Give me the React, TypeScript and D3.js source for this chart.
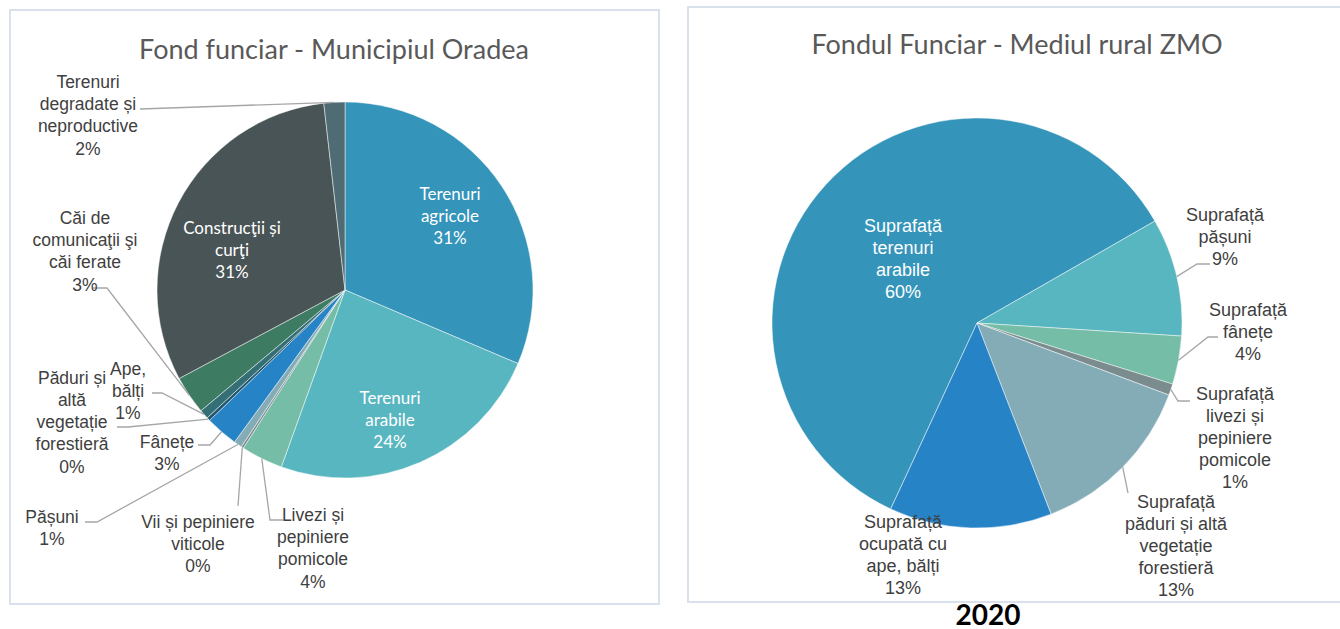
import React from 'react';
import * as d3 from 'd3';

// Fond funciar - Municipiul Oradea (share of total area, %)
const leftLabels = [
  ['Terenuri', 'agricole'],
  ['Terenuri', 'arabile'],
  ['Livezi și', 'pepiniere', 'pomicole'],
  ['Vii și pepiniere', 'viticole'],
  ['Pășuni'],
  ['Fânețe'],
  ['Păduri și', 'altă', 'vegetație', 'forestieră'],
  ['Ape,', 'bălți'],
  ['Căi de', 'comunicaţii şi', 'căi ferate'],
  ['Construcţii și', 'curţi'],
  ['Terenuri', 'degradate și', 'neproductive'],
];
const leftValues = [31.4, 24.1, 3.6, 0.2, 0.7, 2.8, 0.3, 0.8, 3.3, 31.0, 1.8];
const leftColors = ['#3494ba', '#58b6c0', '#75bda7', '#7a8c8e', '#84acb6', '#2683c6',
  '#1f5870', '#356f76', '#3d7b63', '#495456', '#4f6c74'];

// Fondul Funciar - Mediul rural ZMO (%)
const rightLabels = [
  ['Suprafață', 'terenuri', 'arabile'],
  ['Suprafață', 'pășuni'],
  ['Suprafață', 'fânețe'],
  ['Suprafață', 'livezi și', 'pepiniere', 'pomicole'],
  ['Suprafață', 'păduri și altă', 'vegetație', 'forestieră'],
  ['Suprafață', 'ocupată cu', 'ape, bălți'],
];
const rightValues = [59.8, 9.3, 3.8, 0.9, 13.4, 12.8];
const rightColors = ['#3494ba', '#58b6c0', '#75bda7', '#7a8c8e', '#84acb6', '#2683c6'];

const yearLabel = '2020';

type Place = { x: number; y: number; inside?: boolean; leader?: [number, number][] };

// label placement (layout only)
const leftPlaces: Place[] = [
  { x: 450, y: 216, inside: true },
  { x: 390, y: 420, inside: true },
  { x: 313, y: 548, leader: [[283, 520], [270, 520]] },
  { x: 198, y: 544, leader: [[238, 506]] },
  { x: 52, y: 528, leader: [[85, 522], [97, 522]] },
  { x: 167, y: 453, leader: [[198, 445], [210, 445]] },
  { x: 72, y: 422, leader: [[117, 427], [128, 427]] },
  { x: 128, y: 391, leader: [[152, 393], [162, 393]] },
  { x: 85, y: 251, leader: [[93, 288], [107, 288]] },
  { x: 232, y: 250, inside: true },
  { x: 88, y: 115, leader: [[140, 109]] },
];
const rightPlaces: Place[] = [
  { x: 903, y: 259, inside: true },
  { x: 1225, y: 237, leader: [[1210, 264], [1197, 264]] },
  { x: 1248, y: 332, leader: [[1218, 337], [1208, 337]] },
  { x: 1235, y: 438, leader: [[1190, 401], [1178, 401]] },
  { x: 1176, y: 546, leader: [[1128, 493]] },
  { x: 903, y: 555 },
];

const pct = (v: number) => `${Math.round(v)}%`;

interface PieProps {
  title: string;
  titleX: number;
  titleY: number;
  cx: number;
  cy: number;
  r: number;
  start: number; // degrees, clockwise from 12 o'clock
  labels: string[][];
  values: number[];
  colors: string[];
  places: Place[];
  labelFont: string;
  insideFont: string;
  labelSize: number;
  insideSize: number;
  lineH: number;
  titleFont: string;
  titleSize: number;
}

const Pie: React.FC<PieProps> = (p) => {
  const a0 = (p.start * Math.PI) / 180;
  const arcs = d3.pie<number>().sort(null).startAngle(a0).endAngle(a0 + 2 * Math.PI)(p.values);
  const arc = d3.arc<d3.PieArcDatum<number>>().innerRadius(0).outerRadius(p.r);
  const edge = (d: d3.PieArcDatum<number>): [number, number] => {
    const m = (d.startAngle + d.endAngle) / 2;
    return [p.cx + p.r * Math.sin(m), p.cy - p.r * Math.cos(m)];
  };
  const line = d3.line();

  return (
    <g>
      <text x={p.titleX} y={p.titleY} dy="0.35em" textAnchor="middle" fill="#595959"
        fontFamily={p.titleFont} fontSize={p.titleSize}>{p.title}</text>
      <g transform={`translate(${p.cx},${p.cy})`}>
        {arcs.map((d, i) => (
          <path key={i} d={arc(d) || ''} fill={p.colors[i]} stroke="#ffffff" strokeWidth={0.6} strokeOpacity={0.8} />
        ))}
      </g>
      {arcs.map((d, i) => {
        const pl = p.places[i];
        if (!pl.leader) return null;
        const pts = [...pl.leader, edge(d)] as [number, number][];
        return <path key={'l' + i} d={line(pts) || ''} fill="none" stroke="#a6a6a6" strokeWidth={1.3} />;
      })}
      {arcs.map((d, i) => {
        const pl = p.places[i];
        const lines = [...p.labels[i], pct(d.data)];
        const y0 = pl.y - ((lines.length - 1) * p.lineH) / 2;
        return (
          <text key={'t' + i} textAnchor="middle"
            fill={pl.inside ? '#ffffff' : '#404040'}
            fontFamily={pl.inside ? p.insideFont : p.labelFont}
            fontSize={pl.inside ? p.insideSize : p.labelSize}>
            {lines.map((s, j) => (
              <tspan key={j} x={pl.x} y={y0 + j * p.lineH} dy="0.35em">{s}</tspan>
            ))}
          </text>
        );
      })}
    </g>
  );
};

export default function App() {
  return (
    <div style={{ position: 'fixed', left: 0, top: 0, background: '#ffffff' }}>
      <svg width={1340} height={629} style={{ display: 'block' }}>
        <rect x={0} y={0} width={1340} height={629} fill="#ffffff" />
        <rect x={10} y={10} width={649} height={594} fill="#ffffff" stroke="#d9e1ec" strokeWidth={2} />
        <rect x={688} y={7} width={670} height={595} fill="#ffffff" stroke="#d9e1ec" strokeWidth={2} />
        <Pie title="Fond funciar - Municipiul Oradea" titleX={334} titleY={50}
          cx={345} cy={290} r={188} start={0}
          labels={leftLabels} values={leftValues} colors={leftColors} places={leftPlaces}
          labelFont="'Liberation Sans', Arial, sans-serif" insideFont="Lato, sans-serif"
          labelSize={17.5} insideSize={17} lineH={22.3}
          titleFont="Lato, sans-serif" titleSize={27} />
        <Pie title="Fondul Funciar - Mediul rural ZMO" titleX={1017} titleY={45}
          cx={977} cy={323} r={205} start={-155.1}
          labels={rightLabels} values={rightValues} colors={rightColors} places={rightPlaces}
          labelFont="'Liberation Sans', Arial, sans-serif" insideFont="'Liberation Sans', Arial, sans-serif"
          labelSize={18} insideSize={18} lineH={22}
          titleFont="Lato, sans-serif" titleSize={27} />
        <text x={988} y={615} dy="0.35em" textAnchor="middle" fill="#000000"
          fontFamily="Lato, sans-serif" fontWeight="bold" fontSize={28}>{yearLabel}</text>
      </svg>
    </div>
  );
}
